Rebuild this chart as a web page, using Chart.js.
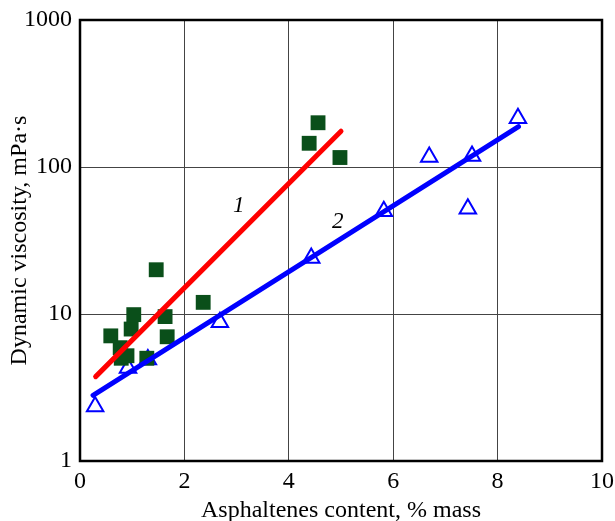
<!DOCTYPE html>
<html>
<head>
<meta charset="utf-8">
<script src="https://cdn.jsdelivr.net/npm/chart.js@4"></script>
<style>
  body { margin: 0; background: #fff; }
  #wrap { width: 615px; height: 521px; }
</style>
</head>
<body>
<div id="wrap"><canvas id="visc-chart"></canvas></div>
<script>
// series 1 - squares
var sqX = [0.59, 0.77, 0.79, 0.90, 0.98, 1.03, 1.28, 1.46, 1.63, 1.67, 2.36, 4.39, 4.56, 4.98];
var sqY = [7.1, 5.9, 5.0, 5.2, 7.9, 9.9, 5.0, 20, 9.6, 7.0, 12, 145, 200, 116];
// series 2 - triangles
var triX = [0.29, 0.92, 1.30, 2.68, 4.43, 5.82, 6.69, 7.43, 7.51, 8.39];
var triY = [2.35, 4.3, 4.9, 8.8, 24, 50, 117, 52, 119, 215];
// fitted lines
var line1X = [0.3, 5.0];
var line1Y = [3.75, 175];
var line2X = [0.25, 8.4];
var line2Y = [2.8, 188];
// curve numbers
var labelText = ["1", "2"];
var labelX = [3.04, 4.94];
var labelY = [54, 42.6];
var yTicks = [1, 10, 100, 1000];

function pts(xs, ys) {
  return xs.map(function(x, i) { return {x: x, y: ys[i]}; });
}

var serif = "'Liberation Serif', 'Times New Roman', serif";

//titles, curve numbers and frame
var extras = {
  id: "extras",
  afterDraw: function(chart) {
    var ctx = chart.ctx;
    var a = chart.chartArea;
    var xs = chart.scales.x, ys = chart.scales.y;
    ctx.save();
    ctx.strokeStyle = "#000";
    ctx.lineWidth = 2.5;
    ctx.strokeRect(a.left, a.top, a.right - a.left, a.bottom - a.top);

    ctx.fillStyle = "#000";
    ctx.textAlign = "center";
    ctx.textBaseline = "middle";
    ctx.font = "italic 23px " + serif;
    for (var i = 0; i < labelText.length; i++) {
      ctx.fillText(labelText[i], xs.getPixelForValue(labelX[i]), ys.getPixelForValue(labelY[i]));
    }

    ctx.font = "24px " + serif;
    ctx.fillText("Asphaltenes content, % mass", 341, 511);
    ctx.translate(20, (a.top + a.bottom) / 2);
    ctx.rotate(-Math.PI / 2);
    ctx.fillText("Dynamic viscosity, mPa\u00b7s", 0, 0);
    ctx.restore();
  }
};

new Chart("visc-chart", {
  type: "scatter",
  data: {
    datasets: [{
      label: "line1",
      type: "line",
      data: pts(line1X, line1Y),
      borderColor: "#ff0000",
      borderWidth: 5,
      pointRadius: 0,
      borderCapStyle: "round"
    }, {
      label: "line2",
      type: "line",
      data: pts(line2X, line2Y),
      borderColor: "#0000ff",
      borderWidth: 5,
      pointRadius: 0,
      borderCapStyle: "round"
    }, {
      label: "squares",
      data: pts(sqX, sqY),
      pointStyle: "rect",
      pointRadius: 10.5,
      backgroundColor: "#0a4f1a",
      borderColor: "#0a4f1a",
      borderWidth: 0
    }, {
      label: "triangles",
      data: pts(triX, triY),
      pointStyle: "triangle",
      pointRadius: 9.5,
      backgroundColor: "rgba(0,0,0,0)",
      borderColor: "#0000ff",
      borderWidth: 2
    }]
  },
  options: {
    responsive: true,
    maintainAspectRatio: false,
    animation: false,
    layout: {
      padding: { top: 20, right: 13, bottom: 0, left: 0 }
    },
    plugins: {
      legend: { display: false },
      tooltip: { enabled: false }
    },
    scales: {
      x: {
        type: "linear",
        min: 0,
        max: 10,
        ticks: {
          stepSize: 2,
          color: "#000",
          padding: 6,
          font: { family: serif, size: 24 }
        },
        grid: { color: "#444", lineWidth: 1, drawTicks: false },
        border: { display: false },
        afterFit: function(s) {
          s.height = 60;
          s.paddingLeft = 0;
          s.paddingRight = 0;
        }
      },
      y: {
        type: "logarithmic",
        min: 1,
        max: 1000,
        afterBuildTicks: function(s) {
          s.ticks = yTicks.map(function(v) { return {value: v}; });
        },
        ticks: {
          color: "#000",
          padding: 8,
          font: { family: serif, size: 24 },
          callback: function(v) { return String(v); }
        },
        grid: { color: "#444", lineWidth: 1, drawTicks: false },
        border: { display: false },
        afterFit: function(s) {
          s.width = 80;
          s.paddingTop = 0;
          s.paddingBottom = 0;
        }
      }
    }
  },
  plugins: [extras]
});
</script>
</body>
</html>
